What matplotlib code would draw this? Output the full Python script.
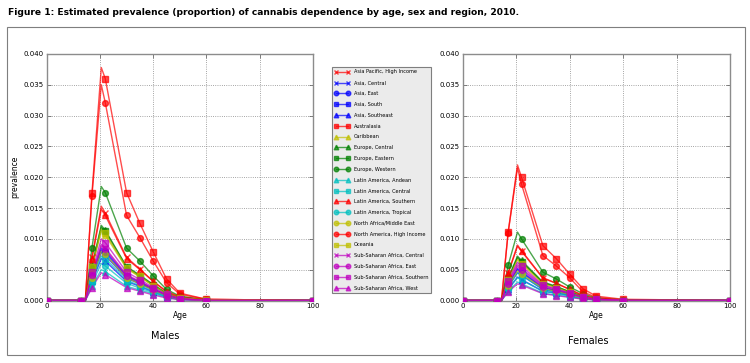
import numpy as np
import matplotlib
matplotlib.use("Agg")
import matplotlib.pyplot as plt
from matplotlib.patches import Rectangle

regions = [
    "Asia Pacific, High Income", "Asia, Central", "Asia, East", "Asia, South",
    "Asia, Southeast", "Australasia", "Caribbean", "Europe, Central",
    "Europe, Eastern", "Europe, Western", "Latin America, Andean",
    "Latin America, Central", "Latin America, Southern", "Latin America, Tropical",
    "North Africa/Middle East", "North America, High Income", "Oceania",
    "Sub-Saharan Africa, Central", "Sub-Saharan Africa, East",
    "Sub-Saharan Africa, Southern", "Sub-Saharan Africa, West",
]
colors = ["r", "b", "b", "b", "b", "r", "y", "g", "g", "g", "c",
          "c", "r", "c", "y", "r", "y", "m", "m", "m", "m"]
markers = ["x", "x", "o", "s", "^", "s", "^", "^", "s", "o", "^",
           "s", "^", "o", "o", "o", "s", "x", "o", "s", "^"]

# ages where estimates are read off (20.5 = curve peak)
ages = [17, 20.5, 22, 30, 35, 40, 45, 50, 60]

males = [
    [0.0071, 0.0153, 0.0142, 0.0070, 0.0051, 0.0031, 0.0015, 0.0006, 0.0001],
    [0.0036, 0.0078, 0.0073, 0.0036, 0.0027, 0.0017, 0.0008, 0.0003, 0.0000],
    [0.0040, 0.0085, 0.0080, 0.0040, 0.0030, 0.0019, 0.0008, 0.0003, 0.0000],
    [0.0038, 0.0082, 0.0077, 0.0038, 0.0028, 0.0018, 0.0008, 0.0003, 0.0000],
    [0.0031, 0.0068, 0.0064, 0.0031, 0.0023, 0.0014, 0.0006, 0.0002, 0.0000],
    [0.0175, 0.0378, 0.0360, 0.0175, 0.0125, 0.0079, 0.0035, 0.0012, 0.0002],
    [0.0053, 0.0113, 0.0106, 0.0052, 0.0038, 0.0024, 0.0011, 0.0004, 0.0001],
    [0.0056, 0.0122, 0.0114, 0.0055, 0.0041, 0.0026, 0.0012, 0.0004, 0.0001],
    [0.0055, 0.0119, 0.0112, 0.0054, 0.0040, 0.0025, 0.0011, 0.0004, 0.0001],
    [0.0086, 0.0185, 0.0175, 0.0085, 0.0064, 0.0040, 0.0018, 0.0007, 0.0001],
    [0.0023, 0.0050, 0.0047, 0.0023, 0.0017, 0.0011, 0.0005, 0.0002, 0.0000],
    [0.0033, 0.0072, 0.0068, 0.0033, 0.0024, 0.0015, 0.0007, 0.0002, 0.0000],
    [0.0068, 0.0148, 0.0138, 0.0068, 0.0050, 0.0031, 0.0014, 0.0005, 0.0001],
    [0.0028, 0.0060, 0.0056, 0.0028, 0.0020, 0.0013, 0.0006, 0.0002, 0.0000],
    [0.0037, 0.0080, 0.0075, 0.0037, 0.0027, 0.0017, 0.0008, 0.0003, 0.0000],
    [0.0170, 0.0350, 0.0321, 0.0138, 0.0102, 0.0064, 0.0029, 0.0010, 0.0002],
    [0.0054, 0.0116, 0.0109, 0.0053, 0.0039, 0.0024, 0.0011, 0.0004, 0.0001],
    [0.0042, 0.0091, 0.0085, 0.0042, 0.0031, 0.0019, 0.0009, 0.0003, 0.0000],
    [0.0041, 0.0088, 0.0083, 0.0040, 0.0030, 0.0019, 0.0008, 0.0003, 0.0000],
    [0.0046, 0.0100, 0.0094, 0.0046, 0.0034, 0.0021, 0.0010, 0.0003, 0.0000],
    [0.0021, 0.0045, 0.0042, 0.0021, 0.0015, 0.0009, 0.0004, 0.0001, 0.0000],
]

females = [
    [0.0045, 0.0090, 0.0081, 0.0037, 0.0028, 0.0018, 0.0008, 0.0003, 0.0000],
    [0.0023, 0.0045, 0.0041, 0.0018, 0.0014, 0.0009, 0.0004, 0.0001, 0.0000],
    [0.0026, 0.0052, 0.0047, 0.0021, 0.0016, 0.0010, 0.0005, 0.0002, 0.0000],
    [0.0025, 0.0050, 0.0045, 0.0020, 0.0016, 0.0010, 0.0004, 0.0002, 0.0000],
    [0.0019, 0.0038, 0.0034, 0.0015, 0.0012, 0.0008, 0.0003, 0.0001, 0.0000],
    [0.0111, 0.0220, 0.0200, 0.0089, 0.0068, 0.0043, 0.0019, 0.0007, 0.0002],
    [0.0034, 0.0068, 0.0062, 0.0028, 0.0021, 0.0014, 0.0006, 0.0002, 0.0000],
    [0.0036, 0.0072, 0.0065, 0.0030, 0.0023, 0.0014, 0.0007, 0.0002, 0.0000],
    [0.0035, 0.0070, 0.0063, 0.0029, 0.0022, 0.0014, 0.0006, 0.0002, 0.0000],
    [0.0057, 0.0111, 0.0100, 0.0046, 0.0035, 0.0022, 0.0011, 0.0004, 0.0001],
    [0.0015, 0.0030, 0.0027, 0.0012, 0.0009, 0.0006, 0.0003, 0.0001, 0.0000],
    [0.0022, 0.0045, 0.0041, 0.0018, 0.0014, 0.0009, 0.0004, 0.0001, 0.0000],
    [0.0044, 0.0088, 0.0080, 0.0036, 0.0028, 0.0018, 0.0008, 0.0003, 0.0000],
    [0.0018, 0.0037, 0.0033, 0.0015, 0.0012, 0.0007, 0.0003, 0.0001, 0.0000],
    [0.0024, 0.0048, 0.0043, 0.0020, 0.0015, 0.0010, 0.0004, 0.0002, 0.0000],
    [0.0110, 0.0215, 0.0189, 0.0073, 0.0056, 0.0037, 0.0014, 0.0005, 0.0001],
    [0.0033, 0.0066, 0.0060, 0.0027, 0.0021, 0.0013, 0.0006, 0.0002, 0.0000],
    [0.0029, 0.0058, 0.0052, 0.0024, 0.0018, 0.0012, 0.0005, 0.0002, 0.0000],
    [0.0027, 0.0055, 0.0050, 0.0022, 0.0017, 0.0011, 0.0005, 0.0002, 0.0000],
    [0.0031, 0.0062, 0.0056, 0.0025, 0.0019, 0.0012, 0.0006, 0.0002, 0.0000],
    [0.0014, 0.0027, 0.0025, 0.0011, 0.0008, 0.0005, 0.0002, 0.0001, 0.0000],
]

# zero prevalence before age 14 and at 100
line_ages = [0, 13, 14.5] + ages + [100]
mark_idx = [0, 1, 3, 5, 6, 7, 8, 9, 10, 11, 12]

fig = plt.figure(figsize=(7.5, 3.63), dpi=100)

fig.text(0.011, 0.965, "Figure 1: Estimated prevalence (proportion) of cannabis dependence by age, sex and region, 2010.",
         fontsize=6.6, fontweight="bold", family=["Liberation Sans Narrow", "DejaVu Sans"],
         va="center", ha="left")
fig.patches.append(Rectangle((7 / 750, 1 - 355 / 363), 738 / 750, 328 / 363,
                             transform=fig.transFigure, fill=False,
                             edgecolor="#7f7f7f", linewidth=0.8))

ax1 = fig.add_axes([46.7 / 750, 1 - 300.5 / 363, 266.3 / 750, 246.5 / 363])
ax2 = fig.add_axes([462.7 / 750, 1 - 300.5 / 363, 267.3 / 750, 246.5 / 363])

for ax, data in [(ax1, males), (ax2, females)]:
    for i, name in enumerate(regions):
        yv = np.array([0, 0, 0] + data[i] + [0])
        xv = np.array(line_ages)
        ax.plot(xv, yv, color=colors[i], lw=1.0, alpha=0.7, zorder=2)
        ax.plot(xv[mark_idx], yv[mark_idx], ls="none", color=colors[i],
                marker=markers[i], ms=4.2, mew=1.0, alpha=0.7, zorder=3)
    ax.set_xlim(0, 100)
    ax.set_ylim(0, 0.04)
    ax.set_xticks([0, 20, 40, 60, 80, 100])
    ax.set_yticks(np.arange(0, 0.0401, 0.005))
    ax.yaxis.set_major_formatter(matplotlib.ticker.FormatStrFormatter("%.3f"))
    ax.tick_params(direction="in", labelsize=5, length=3, width=0.5,
                   top=True, right=True, pad=2, color="#555555")
    ax.grid(True, ls=":", color="#888888", lw=0.6)
    for s in ax.spines.values():
        s.set_edgecolor("#8c8c8c")
        s.set_linewidth(1.0)
    ax.set_xlabel("Age", fontsize=5.5, labelpad=1)

ax1.set_ylabel("prevalence", fontsize=5.5, labelpad=3)

# legend handles with markers at both ends of the sample line
handles = [matplotlib.lines.Line2D([], [], color=colors[i], marker=markers[i],
                                   lw=1.0, ms=3.3, alpha=0.7)
           for i in range(len(regions))]
leg = fig.legend(handles, regions, loc="upper left",
                 bbox_to_anchor=(331.7 / 750, 1 - 67 / 363), borderaxespad=0,
                 fontsize=3.6, numpoints=2, handlelength=3.0, labelspacing=1.16,
                 handletextpad=1.0, borderpad=0.5, fancybox=False,
                 framealpha=1.0)
leg.get_frame().set_facecolor("#ebebeb")
leg.get_frame().set_edgecolor("#7f7f7f")
leg.get_frame().set_linewidth(0.8)

fig.text(165 / 750, 1 - 336 / 363, "Males", fontsize=7,
         family=["Liberation Sans Narrow", "DejaVu Sans"], ha="center", va="center")
fig.text(588 / 750, 1 - 341 / 363, "Females", fontsize=7,
         family=["Liberation Sans Narrow", "DejaVu Sans"], ha="center", va="center")

fig.savefig("out.png", dpi=100)
